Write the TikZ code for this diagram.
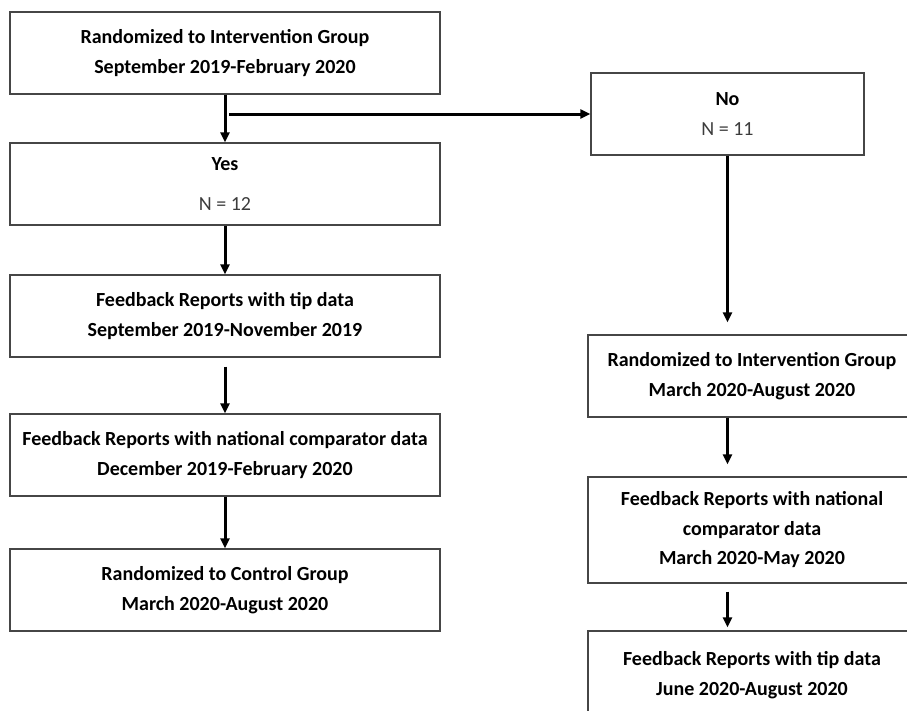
\documentclass[tikz,border=0pt]{standalone}
\usepackage{fontspec}
\setmainfont{Carlito}
\usetikzlibrary{arrows.meta}
\definecolor{BoxLine}{RGB}{70,70,70}
\definecolor{CountGray}{RGB}{60,60,60}
\tikzset{
  flowbox/.style={draw=BoxLine,line width=1.3pt,minimum height=82pt,
    align=center,inner sep=0pt,font=\fontsize{20}{29.5}\selectfont\bfseries},
  leftbox/.style={flowbox,minimum width=430pt},
  rightbox/.style={flowbox,minimum width=328pt},
  arrow/.style={-{Triangle[width=9pt,length=10pt]},line width=3pt,black}
}
\begin{document}
\begin{tikzpicture}[x=1pt,y=-1pt]
  \clip (0,0) rectangle (907,710);
  \fill[white] (0,0) rectangle (907,710);
  % left branch
  \node[leftbox] (top) at (225,53) {Randomized to Intervention Group\\September 2019-February 2020};
  \node[leftbox] (yes) at (225,184) {Yes\\[10pt]\textcolor{CountGray}{\mdseries N = 12}};
  \node[leftbox] (tip) at (225,316) {Feedback Reports with tip data\\September 2019-November 2019};
  \node[leftbox] (nat) at (225,455) {Feedback Reports with national comparator data\\December 2019-February 2020};
  \node[leftbox] (ctrl) at (225,590) {Randomized to Control Group\\March 2020-August 2020};
  % right branch
  \node[flowbox,minimum width=273pt] (no) at (727.5,114) {No\\\textcolor{CountGray}{\mdseries N = 11}};
  \node[rightbox] (rint) at (752,376) {Randomized to Intervention Group\\March 2020-August 2020};
  \node[rightbox,minimum height=106pt] (rnat) at (752,530) {Feedback Reports with national\\comparator data\\March 2020-May 2020};
  \node[rightbox,minimum height=88pt] (rtip) at (752,675) {Feedback Reports with tip data\\June 2020-August 2020};
  \coordinate (split) at (229,114);
  % connectors
  \draw[arrow] (top.south) -- (yes.north);
  \draw[arrow] (split) -- (no.west);
  \draw[arrow] (yes.south) -- (tip.north);
  \draw[arrow,shorten <=9pt] (tip.south) -- (nat.north);
  \draw[arrow] (nat.south) -- (ctrl.north);
  \draw[arrow,shorten >=12pt] (no.south) -- (no.south |- rint.north);
  \draw[arrow,shorten >=12pt] (rint.south -| no.south) -- (no.south |- rnat.north);
  \draw[arrow,shorten <=8pt,shorten >=3pt] (rnat.south -| no.south) -- (no.south |- rtip.north);
\end{tikzpicture}
\end{document}
